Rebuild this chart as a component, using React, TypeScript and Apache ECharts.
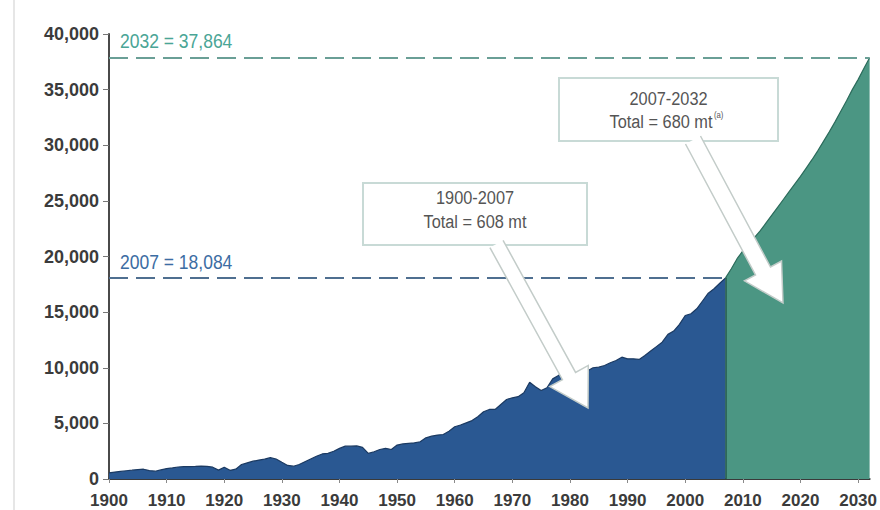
import React, { useEffect, useRef } from "react";
import * as echarts from "echarts";

// ---------- data ----------
const START_YEAR = 1900;
// Annual values 1900-2007 (read from the blue area)
const historicValues = [
  550, 620, 680, 740, 790, 850, 880, 760, 700, 820,
  940, 1000, 1080, 1120, 1120, 1130, 1150, 1140, 1060, 800,
  1060, 780, 880, 1300, 1450, 1600, 1700, 1780, 1920, 1800,
  1500, 1220, 1150, 1300, 1550, 1800, 2050, 2250, 2300, 2500,
  2750, 2950, 2950, 2970, 2850, 2300, 2450, 2650, 2760, 2650,
  3050, 3150, 3200, 3250, 3350, 3700, 3850, 3950, 4000, 4300,
  4700, 4850, 5050, 5250, 5600, 6050, 6250, 6250, 6700, 7150,
  7300, 7400, 7750, 8700, 8300, 7950, 8200, 9000, 9300, 9700,
  9400, 9100, 9200, 9700, 10000, 10050, 10200, 10450, 10650, 10950,
  10800, 10800, 10750, 11100, 11500, 11900, 12300, 13000, 13300, 13900,
  14700, 14850, 15300, 16000, 16700, 17100, 17600, 18084,
];
const PROJ_START = 2007;
// Projected values 2007-2032 (read from the green area)
const projectedValues = [
  18084, 18900, 19800, 20500, 21100, 21700, 22300, 23000, 23700, 24400,
  25100, 25800, 26500, 27200, 27950, 28700, 29500, 30350, 31200, 32100,
  33050, 34000, 35000, 35900, 36900, 37864,
];
const X_MIN = 1900;
const X_MAX = 2032;
const X_INTERVAL = 10;
const Y_MIN = 0;
const Y_MAX = 40000;
const Y_INTERVAL = 5000;

const periodLabels = ["1900-2007", "2007-2032"];
const periodTotals = [608, 680];
const totalUnit = "mt";
const footnoteMark = "(a)";

// ---------- styles ----------
const BLUE = "#2a5892";
const BLUE_EDGE = "#1b3a62";
const GREEN = "#4b9683";
const GREEN_EDGE = "#2b6b5b";
const AXIS_TEXT = "#3b3b3b";
const ARIAL = '"Liberation Sans", Arial, sans-serif';

type P = [number, number];
function arrowPoints(s: P, b: P, t: P, w: number, h: number): P[] {
  const len = Math.hypot(b[0] - s[0], b[1] - s[1]);
  const dx = (b[0] - s[0]) / len;
  const dy = (b[1] - s[1]) / len;
  const px = -dy;
  const py = dx;
  const at = (c: P, k: number): P => [c[0] + px * k, c[1] + py * k];
  return [at(s, w), at(b, w), at(b, h), t, at(b, -h), at(b, -w), at(s, -w)];
}

function arrowElements(s: P, b: P, t: P, w: number, h: number) {
  const pts = arrowPoints(s, b, t, w, h);
  return [
    { type: "polygon", shape: { points: pts }, style: { fill: "#ffffff", stroke: "none" }, z: 10 },
    { type: "polyline", shape: { points: pts }, style: { fill: "none", stroke: "#c3ccc9", lineWidth: 1.5 }, z: 11 },
  ];
}

const fmt = (v: number) => v.toLocaleString("en-US");

// condensed text: Liberation Sans squeezed horizontally
function condensedText(
  text: string,
  x: number,
  y: number,
  opts: { size: number; color: string; align: string; scale: number }
) {
  return {
    type: "text",
    z: 12,
    x,
    y,
    scaleX: opts.scale,
    scaleY: 1,
    style: {
      text,
      x: 0,
      y: 0,
      fill: opts.color,
      fontSize: opts.size,
      fontFamily: ARIAL,
      align: opts.align,
      textAlign: opts.align,
      verticalAlign: "middle",
      textVerticalAlign: "middle",
    },
  };
}

export default function App() {
  const ref = useRef<HTMLDivElement>(null);
  useEffect(() => {
    if (!ref.current) return;
    const chart = echarts.init(ref.current, null, { renderer: "svg" });
    const hist = historicValues.map((v, i) => [START_YEAR + i, v]);
    const proj = projectedValues.map((v, i) => [PROJ_START + i, v]);
    const histEnd = historicValues[historicValues.length - 1];
    const histEndYear = START_YEAR + historicValues.length - 1;
    const projEnd = projectedValues[projectedValues.length - 1];
    const projEndYear = PROJ_START + projectedValues.length - 1;

    const box1 = { x: 363, y: 183, w: 224, h: 62 };
    const box2 = { x: 559, y: 78, w: 219, h: 63 };
    const boxStyle = { fill: "#ffffff", stroke: "#c8dad6", lineWidth: 2 };
    const boxText = (text: string, x: number, y: number, align = "center", size = 19) =>
      condensedText(text, x, y, { size, color: "#555555", align, scale: 0.86 });
    const refText = (text: string, y: number, color: string) =>
      condensedText(text, 120, y, { size: 20, color, align: "left", scale: 0.875 });

    const option: any = {
      animation: false,
      backgroundColor: "#ffffff",
      grid: { left: 109, right: 8.5, top: 34, bottom: 31, containLabel: false },
      xAxis: {
        type: "value",
        min: X_MIN,
        max: X_MAX,
        interval: X_INTERVAL,
        axisLine: { show: true, lineStyle: { color: "#3a3a3a", width: 2 } },
        axisTick: { show: true, length: 4, lineStyle: { color: "#8a8a8a", width: 1 } },
        axisLabel: {
          color: AXIS_TEXT,
          fontFamily: ARIAL,
          fontWeight: "bold",
          fontSize: 17,
          margin: 13,
          showMaxLabel: false,
          formatter: (v: number) => (v % X_INTERVAL === 0 ? String(v) : ""),
        },
        splitLine: { show: false },
      },
      yAxis: {
        type: "value",
        min: Y_MIN,
        max: Y_MAX,
        interval: Y_INTERVAL,
        axisLine: { show: true, lineStyle: { color: "#4a4a4a", width: 2 } },
        axisTick: { show: true, length: 6, lineStyle: { color: "#777777", width: 1 } },
        axisLabel: {
          color: AXIS_TEXT,
          fontFamily: ARIAL,
          fontWeight: "bold",
          fontSize: 18,
          margin: 10,
          formatter: (v: number) => fmt(v),
        },
        splitLine: { show: false },
      },
      series: [
        {
          type: "line",
          data: hist,
          symbol: "none",
          showSymbol: false,
          lineStyle: { color: BLUE_EDGE, width: 1.2 },
          areaStyle: { color: BLUE, opacity: 1 },
          z: 2,
          markLine: {
            symbol: "none",
            silent: true,
            label: { show: false },
            lineStyle: { type: [19, 8], width: 2, color: "#4f6f90" },
            data: [[{ coord: [X_MIN, histEnd] }, { coord: [histEndYear, histEnd] }]],
          },
        },
        {
          type: "line",
          data: proj,
          symbol: "none",
          showSymbol: false,
          lineStyle: { color: GREEN_EDGE, width: 1.2 },
          areaStyle: { color: GREEN, opacity: 1 },
          z: 3,
          markLine: {
            symbol: "none",
            silent: true,
            label: { show: false },
            data: [
              [
                { coord: [X_MIN, projEnd], lineStyle: { type: [19, 8], width: 2, color: "#6a9f96" } },
                { coord: [projEndYear, projEnd] },
              ],
              [
                { coord: [PROJ_START, 0], lineStyle: { type: "solid", width: 1.5, color: "#23584b" } },
                { coord: [PROJ_START, histEnd] },
              ],
            ],
          },
        },
      ],
      graphic: [
        { type: "line", shape: { x1: 14, y1: 0, x2: 14, y2: 510 }, style: { stroke: "#e6e6e6", lineWidth: 2 } },
        refText(`${projEndYear} = ${fmt(projEnd)}`, 41, "#4aa596"),
        refText(`${histEndYear} = ${fmt(histEnd)}`, 262.5, "#3c6da3"),
        { type: "rect", z: 9, shape: { x: box1.x, y: box1.y, width: box1.w, height: box1.h }, style: boxStyle },
        { type: "rect", z: 9, shape: { x: box2.x, y: box2.y, width: box2.w, height: box2.h }, style: boxStyle },
        ...arrowElements([496.5, 244], [569, 376], [588, 408], 7.5, 22),
        ...arrowElements([693, 140], [763, 271], [783, 303], 8.5, 21),
        boxText(periodLabels[0], 475, 198),
        boxText(`Total = ${periodTotals[0]} ${totalUnit}`, 475, 221.7),
        boxText(periodLabels[1], 668.5, 98.3),
        boxText(`Total = ${periodTotals[1]} ${totalUnit}`, 661, 121.7),
        boxText(footnoteMark, 714, 115, "left", 9),
      ],
    };
    chart.setOption(option);
    return () => chart.dispose();
  }, []);
  return (
    <div
      ref={ref}
      style={{ position: "fixed", left: 0, top: 0, width: 880, height: 510, background: "#ffffff" }}
    />
  );
}
